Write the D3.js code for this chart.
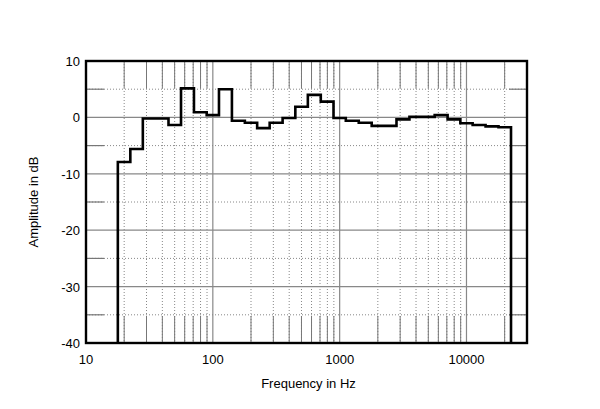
<!DOCTYPE html>
<html>
<head>
<meta charset="utf-8">
<script src="https://cdn.jsdelivr.net/npm/d3@7"></script>
<style>
	body { margin: 0; background: #fff; }
	text { font-family: "Liberation Sans", Arial, sans-serif; fill: #000; }
</style>
</head>
<body>
<script>
// 1/3-octave band centres (Hz) and level in each band (dB)
var bandCenters = [20, 25, 31.5, 40, 50, 63, 80, 100, 125, 160, 200, 250, 315, 400, 500, 630, 800,
	1000, 1250, 1600, 2000, 2500, 3150, 4000, 5000, 6300, 8000, 10000, 12500, 16000, 20000];
var amplitude = [-7.9, -5.6, -0.2, -0.2, -1.35, 5.15, 0.9, 0.4, 5.0, -0.6, -0.95, -1.9, -0.95, -0.1, 1.9, 4.0, 2.8,
	-0.1, -0.6, -0.95, -1.5, -1.5, -0.35, 0.1, 0.1, 0.4, -0.35, -1.05, -1.35, -1.6, -1.75];

var xTickLabels = [10, 100, 1000, 10000];
var yTickLabels = [10, 0, -10, -20, -30, -40];
var xMinorGrid = [20, 30, 40, 50, 60, 70, 80, 90, 200, 300, 400, 500, 600, 700, 800, 900,
	2000, 3000, 4000, 5000, 6000, 7000, 8000, 9000, 20000];
var xMajorGrid = [100, 1000, 10000];
var yMinorGrid = [5, -5, -15, -25, -35];
var yMajorGrid = [0, -10, -20, -30];

var margin = {top: 61, right: 73, bottom: 66, left: 86};
var width = 600 - margin.left - margin.right;
var height = 409 - margin.top - margin.bottom;

var xScale = d3.scaleLog().domain([10, 30000]).range([0, width]);
var yScale = d3.scaleLinear().domain([-40, 10]).range([height, 0]);

var svg = d3.select("body").append("svg")
	.attr("width", 600)
	.attr("height", 409)
	.append("g")
	.attr("transform", "translate(" + margin.left + "," + margin.top + ")");

var tickLen = 18;   // solid stub on horizontal grid lines
var vTickLen = 27;  // solid stub on vertical grid lines

// dotted minor verticals with solid stubs top and bottom
svg.selectAll(".vminor").data(xMinorGrid).enter().append("line")
	.attr("x1", d => xScale(d)).attr("x2", d => xScale(d))
	.attr("y1", 0).attr("y2", height)
	.attr("stroke", "#888").attr("stroke-width", 1).attr("stroke-dasharray", "1,2");
svg.selectAll(".vstubTop").data(xMinorGrid).enter().append("line")
	.attr("x1", d => xScale(d)).attr("x2", d => xScale(d))
	.attr("y1", 0).attr("y2", vTickLen)
	.attr("stroke", "#777").attr("stroke-width", 1);
svg.selectAll(".vstubBot").data(xMinorGrid).enter().append("line")
	.attr("x1", d => xScale(d)).attr("x2", d => xScale(d))
	.attr("y1", height - vTickLen).attr("y2", height)
	.attr("stroke", "#777").attr("stroke-width", 1);
svg.selectAll(".vmajor").data(xMajorGrid).enter().append("line")
	.attr("x1", d => xScale(d)).attr("x2", d => xScale(d))
	.attr("y1", 0).attr("y2", height)
	.attr("stroke", "#888").attr("stroke-width", 1.2);

// dotted minor horizontals with solid stubs left and right
svg.selectAll(".hminor").data(yMinorGrid).enter().append("line")
	.attr("x1", 0).attr("x2", width)
	.attr("y1", d => yScale(d)).attr("y2", d => yScale(d))
	.attr("stroke", "#888").attr("stroke-width", 1).attr("stroke-dasharray", "1,2");
svg.selectAll(".hstubL").data(yMinorGrid).enter().append("line")
	.attr("x1", 0).attr("x2", tickLen)
	.attr("y1", d => yScale(d)).attr("y2", d => yScale(d))
	.attr("stroke", "#777").attr("stroke-width", 1.2);
svg.selectAll(".hstubR").data(yMinorGrid).enter().append("line")
	.attr("x1", width - tickLen).attr("x2", width)
	.attr("y1", d => yScale(d)).attr("y2", d => yScale(d))
	.attr("stroke", "#777").attr("stroke-width", 1.2);
svg.selectAll(".hmajor").data(yMajorGrid).enter().append("line")
	.attr("x1", 0).attr("x2", width)
	.attr("y1", d => yScale(d)).attr("y2", d => yScale(d))
	.attr("stroke", "#888").attr("stroke-width", 1.2);

// band edges: geometric mean between neighbouring centres
var edges = [];
for (var i = 0; i < bandCenters.length; i++) {
	if (i == 0) edges.push(bandCenters[0] * Math.pow(10, -0.05));
	else edges.push(Math.sqrt(bandCenters[i - 1] * bandCenters[i]));
}
edges.push(bandCenters[bandCenters.length - 1] * Math.pow(10, 0.05));

var pts = [[edges[0], -40]];
for (var j = 0; j < amplitude.length; j++) {
	pts.push([edges[j], amplitude[j]]);
}
pts.push([edges[edges.length - 1], amplitude[amplitude.length - 1]]);
pts.push([edges[edges.length - 1], -40]);

var line = d3.line()
	.x(d => xScale(d[0]))
	.y(d => yScale(d[1]))
	.curve(d3.curveStepAfter);

svg.append("path")
	.datum(pts)
	.attr("d", line)
	.attr("fill", "none")
	.attr("stroke", "#000")
	.attr("stroke-width", 2.6)
	.attr("stroke-linejoin", "miter");

// frame
svg.append("rect")
	.attr("x", 0).attr("y", 0)
	.attr("width", width).attr("height", height)
	.attr("fill", "none").attr("stroke", "#000").attr("stroke-width", 2.4);

// tick labels
svg.selectAll(".xlab").data(xTickLabels).enter().append("text")
	.attr("x", d => xScale(d))
	.attr("y", height + 21)
	.attr("text-anchor", "middle")
	.style("font-size", "13px")
	.text(d => d);

svg.selectAll(".ylab").data(yTickLabels).enter().append("text")
	.attr("x", -6)
	.attr("y", d => yScale(d) + 5)
	.attr("text-anchor", "end")
	.style("font-size", "13px")
	.text(d => d);

// axis titles
svg.append("text")
	.attr("x", width / 2 + 2)
	.attr("y", height + 45)
	.attr("text-anchor", "middle")
	.style("font-size", "13px")
	.text("Frequency in Hz");

svg.append("text")
	.attr("transform", "translate(" + (-48) + "," + (height / 2) + ") rotate(-90)")
	.attr("text-anchor", "middle")
	.style("font-size", "13px")
	.text("Amplitude in dB");
</script>
</body>
</html>
